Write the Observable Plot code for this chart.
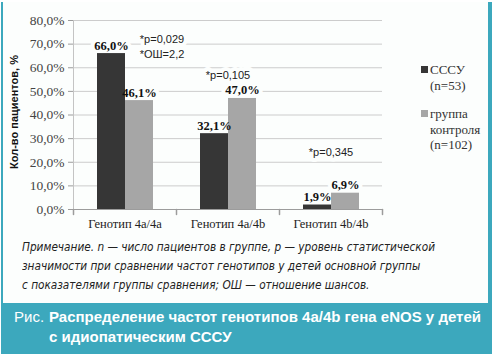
<!DOCTYPE html>
<html>
<head>
<meta charset="utf-8">
<script src="https://cdn.jsdelivr.net/npm/d3@7"></script>
<script src="https://cdn.jsdelivr.net/npm/@observablehq/plot@0.6"></script>
<style>
  body { margin: 0; background: #fff; }
  #page { position: relative; width: 494px; height: 354px; background: #fff; overflow: hidden; }
  #frame { position: absolute; left: 1px; top: 2px; width: 491px; height: 352px; background: #3ca8bd; }
  #inner { position: absolute; left: 3px; top: 2px; width: 485px; height: 301px; background: #fcfefd; }
  #chart { position: absolute; left: 0; top: 0; width: 400px; height: 240px; }
  #ytitle { position: absolute; left: 14px; top: 112px; transform: translate(-50%, -50%) rotate(-90deg);
            white-space: nowrap; font: bold 11px "Liberation Sans", Arial, sans-serif; color: #111; }
  #legend { position: absolute; left: 421px; top: 62px; font: 13px "Liberation Serif", "Times New Roman", serif; color: #333; }
  .lg-item { position: relative; padding-left: 9px; line-height: 15.5px; margin-bottom: 13px; }
  .lg-sw { position: absolute; left: 0; top: 4px; width: 7px; height: 7px; }
  #note { position: absolute; left: 22px; top: 238px; font: italic 12px "Liberation Sans Narrow", "DejaVu Sans Condensed", "Arial Narrow", sans-serif;
          font-stretch: condensed; line-height: 19px; color: #222; white-space: nowrap; transform-origin: left top; }
  #caption-lead { position: absolute; left: 14px; top: 307px; color: #fff; font: 15px "Liberation Sans", Arial, sans-serif; line-height: 19.5px;
                  white-space: nowrap; transform-origin: left top; }
  #caption-body { position: absolute; left: 49px; top: 307px; color: #fff; font: bold 15px "Liberation Sans", Arial, sans-serif; line-height: 19.5px;
                  white-space: nowrap; transform-origin: left top; }
</style>
</head>
<body>
<div id="page">
  <div id="frame"></div>
  <div id="inner"></div>
  <div id="chart"></div>
  <div id="ytitle"></div>
  <div id="legend"></div>
  <div id="note"></div>
  <div id="caption-lead"></div>
  <div id="caption-body"></div>
</div>
<script>
// ---- data ----
const genotypes = ["Генотип 4a/4a", "Генотип 4a/4b", "Генотип 4b/4b"];
const seriesNames = ["СССУ", "группа контроля"];
const legendLines = [["СССУ", "(n=53)"], ["группа", "контроля", "(n=102)"]];
const sssuValues = [66.0, 32.1, 1.9];
const controlValues = [46.1, 47.0, 6.9];
const yTicks = [0, 10, 20, 30, 40, 50, 60, 70, 80];
const pNotes = ["*p=0,029\n*ОШ=2,2", "*p=0,105", "*p=0,345"];
const pNoteLevels = [69.4, 57.3, 24.7];
const yTitle = "Кол-во пациентов, %";
const noteLines = [
  "Примечание. n — число пациентов в группе, p — уровень статистической",
  "значимости при сравнении частот генотипов у детей основной группы",
  "с показателями группы сравнения; ОШ — отношение шансов."
];
const captionLead = "Рис.";
const captionLines = ["Распределение частот генотипов 4a/4b гена eNOS у детей", "с идиопатическим СССУ"];
const seriesColors = ["#363636", "#a6a6a6"];

// ---- build ----
const rows = genotypes.flatMap((g, i) => [
  {genotype: g, series: seriesNames[0], value: sssuValues[i]},
  {genotype: g, series: seriesNames[1], value: controlValues[i]}
]);
const notes = genotypes.map((g, i) => ({genotype: g, text: pNotes[i], level: pNoteLevels[i]}));
const fmt = d => d.toFixed(1).replace(".", ",") + "%";
const serif = '"Liberation Serif", "Times New Roman", serif';
const sans = '"Liberation Sans", Arial, sans-serif';
const bg = "#fcfefd";
const tickShape = {draw(context, l) { context.moveTo(0, 0); context.lineTo(0, -l); }};

const valueLabel = {fx: "genotype", x: "series", y: "value", text: d => fmt(d.value), dy: -4, lineAnchor: "bottom",
  fontWeight: "bold", fontSize: 12.5, fontFamily: serif};
const noteOpts = {fx: "genotype", y: "level", text: "text", lineHeight: 1.35, fontSize: 11, fontFamily: sans};

const chart = Plot.plot({
  width: 392, height: 240,
  marginLeft: 72, marginRight: 10, marginTop: 20, marginBottom: 31,
  style: {background: "transparent", overflow: "visible", fontFamily: serif},
  fx: {domain: genotypes, padding: 0, label: null},
  x: {domain: seriesNames, paddingInner: 0, paddingOuter: 0.78, axis: null},
  y: {domain: [0, 80], axis: null},
  color: {domain: seriesNames, range: seriesColors},
  marks: [
    Plot.gridY(yTicks.filter(d => d > 0), {stroke: "#cccccc", strokeOpacity: 1}),
    Plot.ruleY([0], {stroke: "#9c9c9c"}),
    Plot.frame({anchor: "left", facetAnchor: "left", stroke: "#c4c4c4"}),
    Plot.vector([0], {frameAnchor: "bottom-left", length: 5, rotate: 180, anchor: "start", stroke: "#9c9c9c", shape: tickShape}),
    Plot.vector([0], {frameAnchor: "bottom-right", facetAnchor: "right", length: 5, rotate: 180, anchor: "start", stroke: "#9c9c9c", shape: tickShape}),
    Plot.axisY({ticks: yTicks, tickFormat: fmt, tickSize: 5, tickPadding: 4, stroke: "#9c9c9c",
      fontSize: 13.5, fontFamily: serif, color: "#444", label: null}),
    Plot.axisFx({anchor: "bottom", tickSize: 0, tickPadding: 10, fontSize: 12.5, fontFamily: serif, color: "#222", label: null}),
    // white boxes behind the labels that break the gridlines
    Plot.text(rows, {...valueLabel, fill: bg, stroke: bg, strokeWidth: 8}),
    Plot.text(notes.slice(0, 1), {...noteOpts, dx: 37, fill: bg, stroke: bg, strokeWidth: 8}),
    Plot.text(notes.slice(1), {...noteOpts, fill: bg, stroke: bg, strokeWidth: 8}),
    Plot.barY(rows, {fx: "genotype", x: "series", y: "value", fill: "series"}),
    Plot.text(rows, {...valueLabel, fill: "#111"}),
    Plot.text(notes.slice(0, 1), {...noteOpts, dx: 37, fill: "#222"}),
    Plot.text(notes.slice(1), {...noteOpts, fill: "#222"})
  ]
});
document.getElementById("chart").appendChild(chart);

document.getElementById("ytitle").textContent = yTitle;

const legend = document.getElementById("legend");
legendLines.forEach((lines, i) => {
  const item = document.createElement("div");
  item.className = "lg-item";
  const sw = document.createElement("span");
  sw.className = "lg-sw";
  sw.style.background = seriesColors[i];
  item.appendChild(sw);
  lines.forEach(t => { const l = document.createElement("div"); l.textContent = t; item.appendChild(l); });
  legend.appendChild(item);
});

function fillLines(el, lines) {
  lines.forEach(t => { const l = document.createElement("div"); l.textContent = t; el.appendChild(l); });
}
function fitWidth(el, target) {
  const w = el.getBoundingClientRect().width;
  if (w > 0) el.style.transform = `scaleX(${target / w})`;
}
const note = document.getElementById("note");
fillLines(note, noteLines);
fitWidth(note, 413);

const capLead = document.getElementById("caption-lead");
capLead.textContent = captionLead;
const capBody = document.getElementById("caption-body");
fillLines(capBody, captionLines);
fitWidth(capBody, 432);
capLead.style.transform = capBody.style.transform;
</script>
</body>
</html>
